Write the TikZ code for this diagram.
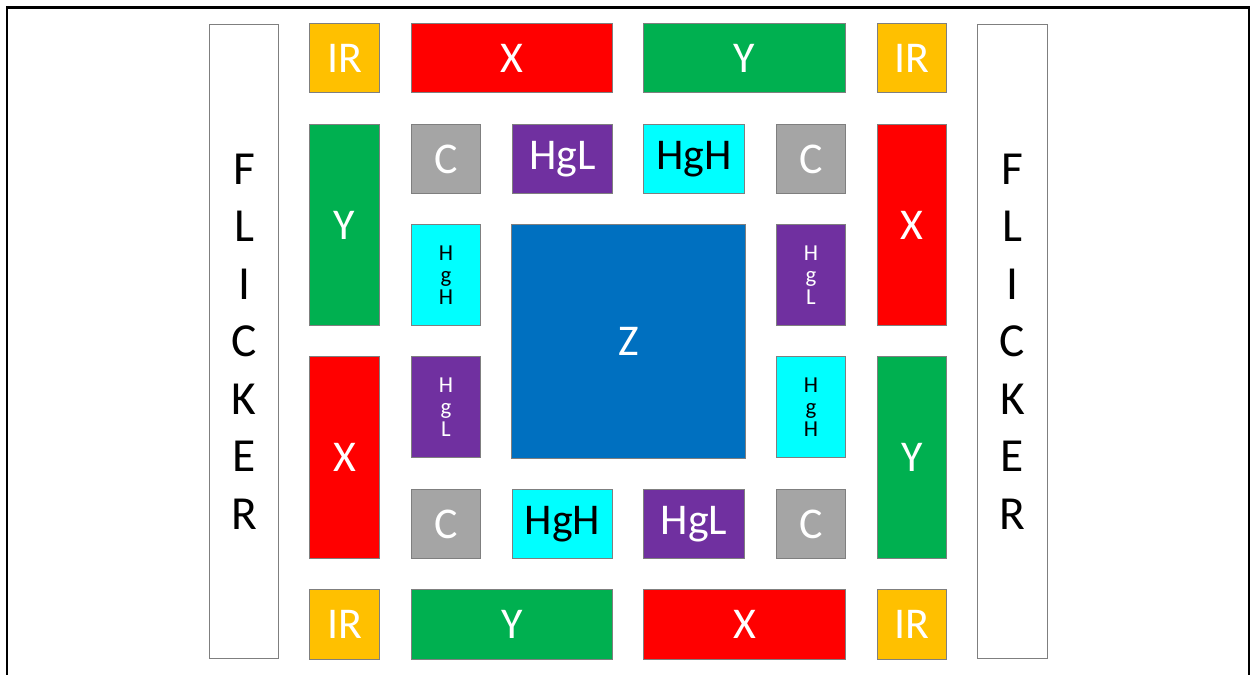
\documentclass[tikz,border=0pt]{standalone}
\usepackage{fontspec}
\setmainfont{Carlito}
\definecolor{cIR}{HTML}{FFC000}
\definecolor{cX}{HTML}{FF0000}
\definecolor{cY}{HTML}{00B050}
\definecolor{cC}{HTML}{A5A5A5}
\definecolor{cL}{HTML}{7030A0}
\definecolor{cH}{HTML}{00FFFF}
\definecolor{cZ}{HTML}{0070C0}
\definecolor{edge}{HTML}{7F7F7F}
\tikzset{
  box/.style={draw=edge, line width=0.6pt, inner sep=0pt, outer sep=0pt, align=center, font=\fontsize{25}{30}\selectfont},
  ir/.style={box, fill=cIR, text=white},
  xb/.style={box, fill=cX, text=white},
  yb/.style={box, fill=cY, text=white},
  cb/.style={box, fill=cC, text=white},
  lb/.style={box, fill=cL, text=white},
  hb/.style={box, fill=cH, text=black},
  zb/.style={box, fill=cZ, text=white},
  fb/.style={box, fill=white, text=black, font=\fontsize{27}{32.7}\selectfont},
  vert/.style={font=\fontsize{13}{12.5}\selectfont},
}
% name, x1, y1, x2, y2, style, text
\newcommand\rbox[7]{%
  \node[#6, minimum width={(#4-#2)*0.5669pt}, minimum height={(#5-#3)*0.5669pt}]
    (#1) at ({(#2+#4)/2},{(#3+#5)/2}) {#7};}
\begin{document}
\begin{tikzpicture}[x=0.02cm, y=-0.02cm]
\useasboundingbox (0,0) rectangle (1250,675);
\coordinate (fbl) at (7,700);
\coordinate (ftl) at (7,7.5);
\coordinate (ftr) at (1249,7.5);
\coordinate (fbr) at (1249,700);
\draw[line width=1.2pt] (fbl) -- (ftl) -- (ftr) -- (fbr);
% FLICKER columns
\rbox{fl}{209}{23}{279}{660}{fb}{F\\L\\I\\C\\K\\E\\R}
\rbox{fr}{977}{23}{1048}{660}{fb}{F\\L\\I\\C\\K\\E\\R}
% top row
\rbox{ir1}{309}{23}{380}{93}{ir}{IR}
\rbox{x1}{411}{23}{613}{93}{xb}{X}
\rbox{y1}{643}{23}{846}{93}{yb}{Y}
\rbox{ir2}{877}{23}{947}{93}{ir}{IR}
% second row
\rbox{y2}{309}{124}{380}{326}{yb}{Y}
\rbox{c1}{411}{124}{481}{194}{cb}{C}
\rbox{hl1}{512}{124}{613}{194}{lb}{HgL}
\rbox{hh1}{643}{124}{745}{194}{hb}{HgH}
\rbox{c2}{776}{124}{846}{194}{cb}{C}
\rbox{x2}{877}{124}{947}{326}{xb}{X}
% middle
\rbox{hh2}{411}{224}{481}{326}{hb,vert}{H\\g\\H}
\rbox{z}{511}{224}{746}{459}{zb}{Z}
\rbox{hl2}{776}{224}{846}{326}{lb,vert}{H\\g\\L}
\rbox{x3}{309}{356}{380}{559}{xb}{X}
\rbox{hl3}{411}{356}{481}{458}{lb,vert}{H\\g\\L}
\rbox{hh3}{776}{356}{846}{458}{hb,vert}{H\\g\\H}
\rbox{y3}{877}{356}{947}{559}{yb}{Y}
% fifth row
\rbox{c3}{411}{489}{481}{559}{cb}{C}
\rbox{hh4}{512}{489}{613}{559}{hb}{HgH}
\rbox{hl4}{643}{489}{745}{559}{lb}{HgL}
\rbox{c4}{776}{489}{846}{559}{cb}{C}
% bottom row
\rbox{ir3}{309}{589}{380}{660}{ir}{IR}
\rbox{y4}{411}{589}{613}{660}{yb}{Y}
\rbox{x4}{643}{589}{846}{660}{xb}{X}
\rbox{ir4}{877}{589}{947}{660}{ir}{IR}
\end{tikzpicture}
\end{document}
